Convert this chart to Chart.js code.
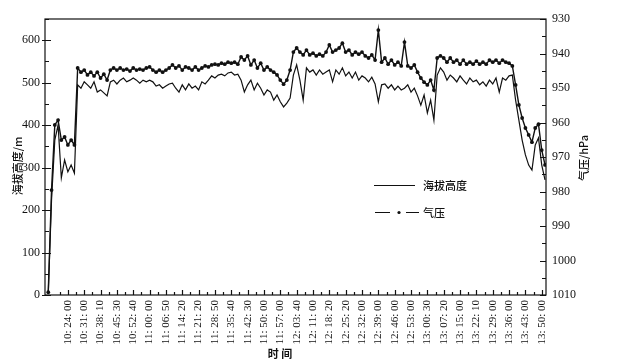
<!DOCTYPE html>
<html>
<head>
<meta charset="utf-8">
<script src="https://cdn.jsdelivr.net/npm/chart.js@4.4.1/dist/chart.umd.min.js"></script>
<style>
  html, body { margin: 0; padding: 0; background: #fff; }
  #wrap { width: 618px; height: 363px; position: relative; }
</style>
</head>
<body>
<div id="wrap"><canvas id="myChart"></canvas></div>
<script>
// tick labels under the time axis (one every 10 x-units)
const timeLabels = [
  '10:24:00', '10:31:00', '10:38:10', '10:45:30', '10:52:40', '11:00:00',
  '11:06:50', '11:14:20', '11:21:20', '11:28:50', '11:35:40', '11:42:30',
  '11:50:00', '11:57:00', '12:03:40', '12:11:00', '12:18:20', '12:25:20',
  '12:32:00', '12:39:00', '12:46:00', '12:53:00', '13:00:30', '13:07:20',
  '13:15:00', '13:22:10', '13:29:00', '13:36:00', '13:43:00', '13:50:00'
];
const firstLabelAt = 14;
const labelEvery = 10;
const sampleStep = 2;   // x-units between two samples
const xMax = 306.6;

const altTicks = [0, 100, 200, 300, 400, 500, 600];
const pressureTicks = [930, 940, 950, 960, 970, 980, 990, 1000, 1010];

// 海拔高度 (m)
const altitude = [
  null, 5, 224, 365, 400, 276, 318, 290, 306, 287,
  495, 487, 502, 495, 487, 502, 478, 483, 476, 469,
  502, 506, 497, 506, 511, 502, 506, 511, 506, 499,
  506, 502, 506, 502, 492, 495, 487, 492, 497, 499,
  487, 478, 495, 483, 497, 487, 492, 483, 502, 497,
  506, 516, 511, 518, 520, 516, 523, 525, 518, 520,
  506, 478, 495, 506, 483, 499, 487, 471, 483, 478,
  459, 471, 455, 443, 452, 464, 518, 542, 506, 459,
  535, 525, 530, 518, 530, 520, 525, 530, 502, 530,
  520, 535, 516, 525, 511, 525, 506, 516, 511, 502,
  513, 497, 455, 495, 497, 487, 495, 483, 492, 483,
  487, 495, 478, 487, 469, 447, 471, 429, 459, 412,
  518, 535, 525, 506, 518, 511, 502, 516, 506, 497,
  511, 502, 506, 495, 502, 492, 506, 497, 511, 478,
  511, 506, 516, 518, 459, 412, 365, 330, 306, 294,
  353, 370, 306, 271
];

// 气压 (hPa)
const pressure = [
  null, 1009.2, 979.6, 960.7, 959.3, 965.1, 964.2, 966.5, 965.1, 966.5,
  944.2, 945.4, 944.8, 946.2, 945.4, 946.5, 945.4, 947.1, 946.0, 947.7,
  944.8, 944.2, 944.8, 944.2, 944.8, 944.5, 945.1, 944.2, 944.8, 944.5,
  944.8, 944.2, 943.9, 944.8, 945.4, 944.8, 945.4, 944.8, 944.2, 943.3,
  944.2, 943.6, 944.8, 943.9, 944.2, 944.8, 943.9, 944.8, 944.2, 943.6,
  943.9, 943.3, 943.1, 943.3, 942.8, 943.1, 942.5, 942.8, 942.5, 943.1,
  941.0, 941.9, 940.7, 943.3, 941.9, 944.2, 942.8, 944.8, 943.9, 944.8,
  945.4, 946.2, 947.7, 948.9, 947.7, 944.8, 939.6, 938.4, 939.6, 940.4,
  939.0, 940.4, 939.9, 940.7, 940.2, 940.7, 939.6, 937.5, 939.6, 939.0,
  938.4, 937.0, 939.6, 939.0, 940.4, 939.6, 940.2, 939.6, 940.7, 941.3,
  940.4, 941.9, 933.2, 942.5, 941.3, 943.1, 941.9, 943.3, 942.5, 943.6,
  936.7, 943.6, 944.2, 943.3, 945.4, 947.1, 948.3, 949.1, 947.7, 950.6,
  941.3, 940.7, 941.3, 942.5, 941.3, 942.5, 941.9, 943.1, 941.9, 943.1,
  942.5, 943.1, 942.2, 943.1, 942.5, 943.1, 941.9, 942.5, 941.9, 942.8,
  941.9, 942.5, 942.8, 943.6, 949.1, 954.9, 958.7, 961.6, 963.6, 965.7,
  961.6, 960.5, 968.0, 972.3
];

const serif = "'Liberation Serif', 'Times New Roman', serif";
const cjk = "'Noto Sans CJK SC', sans-serif";
const ink = '#111';

// frame + inward tick marks
const frameTicks = {
  id: 'frameTicks',
  afterDraw(chart) {
    const { ctx, chartArea: a, scales } = chart;
    ctx.save();
    ctx.strokeStyle = ink;
    ctx.lineWidth = 1.2;
    ctx.strokeRect(a.left, a.top, a.right - a.left, a.bottom - a.top);
    ctx.beginPath();
    for (let v = 0; v <= 650; v += 50) {
      const y = Math.round(scales.yAlt.getPixelForValue(v)) + 0.5;
      const major = v % 100 === 0;
      ctx.moveTo(a.left - (major ? 3 : 0), y);
      ctx.lineTo(a.left + (major ? 6 : 4), y);
    }
    for (let v = 930; v <= 1010; v += 5) {
      const y = Math.round(scales.yP.getPixelForValue(v)) + 0.5;
      const major = v % 10 === 0;
      ctx.moveTo(a.right, y);
      ctx.lineTo(a.right - (major ? 6 : 4), y);
    }
    timeLabels.forEach((t, k) => {
      const v = firstLabelAt + k * labelEvery;
      let x = Math.round(scales.x.getPixelForValue(v)) + 0.5;
      ctx.moveTo(x, a.bottom);
      ctx.lineTo(x, a.bottom - 5);
      x = Math.round(scales.x.getPixelForValue(v - labelEvery / 2)) + 0.5;
      ctx.moveTo(x, a.bottom);
      ctx.lineTo(x, a.bottom - 3);
    });
    ctx.stroke();
    ctx.restore();
  }
};

// axis titles and the legend box inside the plot
const titlesLegend = {
  id: 'titlesLegend',
  afterDraw(chart) {
    const { ctx } = chart;
    ctx.save();
    ctx.fillStyle = ink;
    ctx.strokeStyle = ink;
    ctx.textBaseline = 'middle';
    ctx.textAlign = 'center';
    ctx.font = '500 11px ' + cjk;

    ctx.save();
    ctx.translate(18, 166);
    ctx.rotate(-Math.PI / 2);
    ctx.fillText('海拔高度/m', 0, 0);
    ctx.restore();

    ctx.save();
    ctx.translate(584, 158);
    ctx.rotate(-Math.PI / 2);
    ctx.fillText('气压/hPa', 0, 0);
    ctx.restore();

    ctx.font = 'bold 11px ' + cjk;
    ctx.fillText('时 间', 280, 354);

    // legend
    ctx.textAlign = 'left';
    ctx.font = '500 11px ' + cjk;
    ctx.lineWidth = 1;
    ctx.beginPath();
    ctx.moveTo(374, 185.5); ctx.lineTo(415, 185.5);
    ctx.moveTo(375, 212.5); ctx.lineTo(390, 212.5);
    ctx.moveTo(406, 212.5); ctx.lineTo(419, 212.5);
    ctx.stroke();
    ctx.beginPath();
    ctx.arc(399, 212.5, 1.6, 0, Math.PI * 2);
    ctx.fill();
    ctx.fillText('海拔高度', 423, 186);
    ctx.fillText('气压', 423, 213);
    ctx.restore();
  }
};

const ctx = document.getElementById('myChart').getContext('2d');

const myChart = new Chart(ctx, {
  type: 'line',
  data: {
    datasets: [
      {
        label: '气压',
        data: pressure.map((v, i) => ({ x: i * sampleStep, y: v })),
        yAxisID: 'yP',
        borderColor: ink,
        borderWidth: 1.4,
        pointRadius: 1.9,
        pointBackgroundColor: ink,
        pointBorderWidth: 0,
        tension: 0
      },
      {
        label: '海拔高度',
        data: altitude.map((v, i) => ({ x: i * sampleStep, y: v })),
        yAxisID: 'yAlt',
        borderColor: ink,
        borderWidth: 1.2,
        pointRadius: 0,
        tension: 0
      }
    ]
  },
  options: {
    responsive: true,
    maintainAspectRatio: false,
    animation: false,
    layout: { padding: { top: 19, left: 0, right: 0, bottom: 0 } },
    plugins: {
      legend: { display: false },
      tooltip: { enabled: false }
    },
    scales: {
      x: {
        type: 'linear',
        min: 0,
        max: xMax,
        grid: { display: false, drawTicks: false },
        border: { display: false },
        afterBuildTicks: axis => {
          axis.ticks = timeLabels.map((t, k) => ({ value: firstLabelAt + k * labelEvery }));
        },
        afterFit: s => { s.height = 68; },
        ticks: {
          autoSkip: false,
          minRotation: 90,
          maxRotation: 90,
          padding: 5,
          color: ink,
          font: { family: serif, size: 11 },
          callback: (v, i) => timeLabels[i].replace(/:/g, ': ')
        }
      },
      yAlt: {
        position: 'left',
        min: 0,
        max: 650,
        grid: { display: false, drawTicks: false },
        border: { display: false },
        afterBuildTicks: axis => { axis.ticks = altTicks.map(v => ({ value: v })); },
        afterFit: s => { s.width = 45; },
        ticks: { padding: 5, color: ink, font: { family: serif, size: 12 }, callback: v => String(v) }
      },
      yP: {
        position: 'right',
        reverse: true,
        min: 930,
        max: 1010,
        grid: { display: false, drawTicks: false },
        border: { display: false },
        afterBuildTicks: axis => { axis.ticks = pressureTicks.map(v => ({ value: v })); },
        afterFit: s => { s.width = 72; },
        ticks: { padding: 6, color: ink, font: { family: serif, size: 12 }, callback: v => String(v) }
      }
    }
  },
  plugins: [frameTicks, titlesLegend]
});
</script>
</body>
</html>
